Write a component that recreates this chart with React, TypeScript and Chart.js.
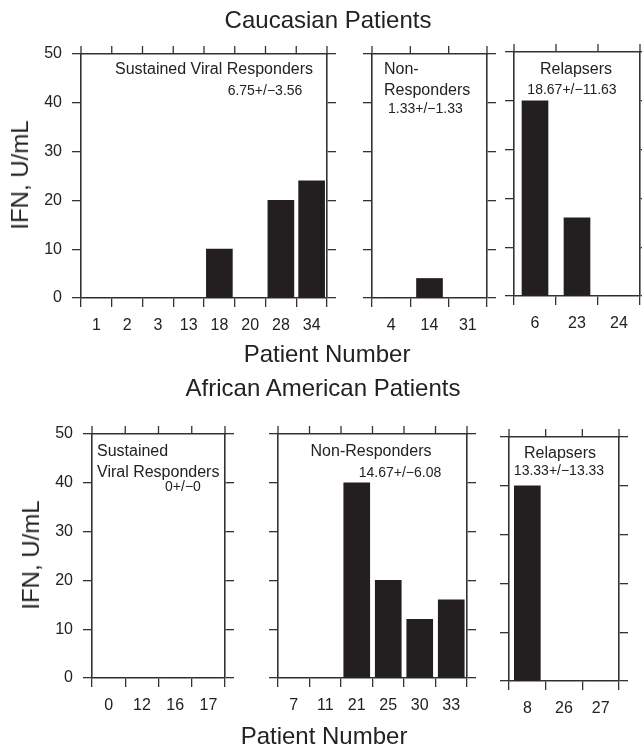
import React, { useEffect, useRef } from "react";
import { Chart, registerables } from "chart.js";

Chart.register(...registerables);

// ---- data ----
const cauSvrPatients = ["1", "2", "3", "13", "18", "20", "28", "34"];
const cauSvrIfn = [0, 0, 0, 0, 10, 0, 20, 24];
const cauNrPatients = ["4", "14", "31"];
const cauNrIfn = [0, 4, 0];
const cauRelPatients = ["6", "23", "24"];
const cauRelIfn = [40, 16, 0];
const aaSvrPatients = ["0", "12", "16", "17"];
const aaSvrIfn = [0, 0, 0, 0];
const aaNrPatients = ["7", "11", "21", "25", "30", "33"];
const aaNrIfn = [0, 0, 40, 20, 12, 16];
const aaRelPatients = ["8", "26", "27"];
const aaRelIfn = [40, 0, 0];
const yTickValues = [0, 10, 20, 30, 40, 50];

const INK = "#333";
const BAR = "#231f20";
const FONT = '"Liberation Sans", Arial, Helvetica, sans-serif';

type Area = { l: number; t: number; r: number; b: number };

// draws the outward tick marks on the top frame at the category boundaries of the x scale
const topTicksPlugin = {
  id: "topTicks",
  afterDraw(chart: any) {
    const x = chart.scales.x;
    const n = x.ticks.length;
    const { ctx, chartArea } = chart;
    const half = (x.getPixelForTick(1) - x.getPixelForTick(0)) / 2 || (chartArea.right - chartArea.left) / 2;
    ctx.save();
    ctx.strokeStyle = INK;
    ctx.lineWidth = 1.3;
    for (let i = 0; i <= n; i++) {
      const px = i < n ? x.getPixelForTick(i) - half : x.getPixelForTick(n - 1) + half;
      ctx.beginPath();
      ctx.moveTo(px, chartArea.top - 8);
      ctx.lineTo(px, chartArea.top);
      ctx.stroke();
    }
    ctx.restore();
  },
};

function Panel({ labels, values, area, showY }: { labels: string[]; values: number[]; area: Area; showY: boolean }) {
  const ref = useRef<HTMLCanvasElement>(null);
  const LEFT = showY ? 60 : 12;
  const TOP = 24;
  const RIGHT = 12;
  const BOTTOM = 46;
  const w = area.r - area.l + LEFT + RIGHT;
  const h = area.b - area.t + TOP + BOTTOM;
  useEffect(() => {
    if (!ref.current) return;
    const grid = { drawOnChartArea: false, color: INK, lineWidth: 1.3 };
    const border = { color: INK, width: 1.6 };
    const yMin = yTickValues[0];
    const yMax = yTickValues[yTickValues.length - 1];
    const step = yTickValues[1] - yTickValues[0];
    const chart = new Chart(ref.current, {
      type: "bar",
      data: {
        labels,
        datasets: [{ data: values, backgroundColor: BAR, borderWidth: 0, barThickness: 26 }],
      },
      options: {
        responsive: false,
        maintainAspectRatio: false,
        animation: false,
        layout: { padding: 0 },
        plugins: { legend: { display: false }, tooltip: { enabled: false }, title: { display: false } },
        scales: {
          x: {
            type: "category",
            position: "bottom",
            offset: true,
            grid: { ...grid, offset: true, tickLength: 9 },
            border,
            ticks: { color: "#222", font: { family: FONT, size: 16 }, padding: 9, maxRotation: 0, autoSkip: false },
            afterFit: (s: any) => { s.height = BOTTOM; },
          },
          xTop: {
            type: "category",
            position: "top",
            offset: true,
            grid: { display: false },
            border,
            ticks: { display: false },
            afterFit: (s: any) => { s.height = TOP; },
          },
          y: {
            type: "linear",
            position: "left",
            min: yMin,
            max: yMax,
            grid: { ...grid, tickLength: 9 },
            border,
            ticks: { display: showY, stepSize: step, color: "#222", font: { family: FONT, size: 16 }, padding: 10 },
            afterFit: (s: any) => { s.width = LEFT; },
          },
          yRight: {
            type: "linear",
            position: "right",
            min: yMin,
            max: yMax,
            grid: { ...grid, tickLength: 9 },
            border,
            ticks: { display: false, stepSize: step },
            afterFit: (s: any) => { s.width = RIGHT; },
          },
        },
      } as any,
      plugins: [topTicksPlugin],
    });
    return () => chart.destroy();
  }, []);
  return (
    <canvas
      ref={ref}
      width={w}
      height={h}
      style={{ position: "absolute", left: area.l - LEFT, top: area.t - TOP, width: w, height: h }}
    />
  );
}

function Text({ x, y, size, text, align = "center", rotate = false }: { x: number; y: number; size: number; text: string; align?: "center" | "left"; rotate?: boolean }) {
  const tx = align === "center" ? "-50%" : "0";
  return (
    <div
      style={{
        position: "absolute",
        left: x,
        top: y,
        fontSize: size,
        lineHeight: 1,
        whiteSpace: "nowrap",
        transform: `translate(${tx}, -50%)${rotate ? " rotate(-90deg)" : ""}`,
        transformOrigin: rotate ? "50% 50%" : undefined,
      }}
    >
      {text}
    </div>
  );
}

export default function App() {
  return (
    <div
      style={{
        position: "fixed",
        left: 0,
        top: 0,
        width: 642,
        height: 747,
        overflow: "hidden",
        background: "#fff",
        fontFamily: FONT,
        color: "#222",
      }}
    >
      <Panel labels={cauSvrPatients} values={cauSvrIfn} area={{ l: 81, t: 54, r: 327, b: 298 }} showY />
      <Panel labels={cauNrPatients} values={cauNrIfn} area={{ l: 372, t: 54, r: 487, b: 298 }} showY={false} />
      <Panel labels={cauRelPatients} values={cauRelIfn} area={{ l: 514, t: 52, r: 640, b: 296 }} showY={false} />
      <Panel labels={aaSvrPatients} values={aaSvrIfn} area={{ l: 92, t: 434, r: 225, b: 678 }} showY />
      <Panel labels={aaNrPatients} values={aaNrIfn} area={{ l: 278, t: 434, r: 467, b: 678 }} showY={false} />
      <Panel labels={aaRelPatients} values={aaRelIfn} area={{ l: 509, t: 437, r: 619, b: 681 }} showY={false} />

      <Text x={328} y={20} size={24} text="Caucasian Patients" />
      <Text x={327} y={354} size={24} text="Patient Number" />
      <Text x={323} y={388} size={24} text="African American Patients" />
      <Text x={324} y={736} size={24} text="Patient Number" />
      <Text x={20} y={175} size={24} text="IFN, U/mL" rotate />
      <Text x={31} y={555} size={24} text="IFN, U/mL" rotate />

      <Text x={214} y={69} size={16} text="Sustained Viral Responders" />
      <Text x={265} y={90} size={14} text="6.75+/−3.56" />
      <Text x={384} y={69} size={16} text="Non-" align="left" />
      <Text x={384} y={90} size={16} text="Responders" align="left" />
      <Text x={388} y={108} size={14} text="1.33+/−1.33" align="left" />
      <Text x={576} y={69} size={16} text="Relapsers" />
      <Text x={572} y={89} size={14} text="18.67+/−11.63" />

      <Text x={97} y={451} size={16} text="Sustained" align="left" />
      <Text x={97} y={472} size={16} text="Viral Responders" align="left" />
      <Text x={183} y={486} size={14} text="0+/−0" />
      <Text x={371} y={451} size={16} text="Non-Responders" />
      <Text x={400} y={472} size={14} text="14.67+/−6.08" />
      <Text x={560} y={453} size={16} text="Relapsers" />
      <Text x={559} y={470} size={14} text="13.33+/−13.33" />
    </div>
  );
}
